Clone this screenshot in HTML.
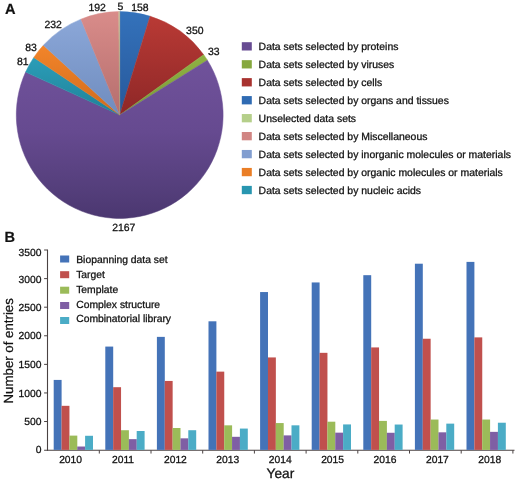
<!DOCTYPE html>
<html><head><meta charset="utf-8"><title>Figure</title>
<style>
html,body{margin:0;padding:0;background:#fff;}
body{width:520px;height:481px;overflow:hidden;font-family:"Liberation Sans",sans-serif;}
svg{display:block;filter:blur(0.35px);font-family:"Liberation Sans",sans-serif;}
text{fill:#111;stroke:#111;stroke-width:0.28px;text-rendering:geometricPrecision;}
</style></head><body>
<svg width="520" height="481" viewBox="0 0 520 481">
<defs>
<linearGradient id="g3" x1="0" y1="0" x2="0" y2="1"><stop offset="0" stop-color="#70529b"/><stop offset="0.45" stop-color="#664a90"/><stop offset="0.8" stop-color="#553f7c"/><stop offset="1" stop-color="#4b3770"/></linearGradient>
<linearGradient id="g0" x1="0" y1="0" x2="0" y2="1"><stop offset="0" stop-color="#3472bb"/><stop offset="1" stop-color="#27589a"/></linearGradient>
<linearGradient id="g1" x1="0" y1="0" x2="0" y2="1"><stop offset="0" stop-color="#b93a35"/><stop offset="1" stop-color="#8e2727"/></linearGradient>
<linearGradient id="g2" x1="0" y1="0" x2="0" y2="1"><stop offset="0" stop-color="#8fb243"/><stop offset="1" stop-color="#7a9a38"/></linearGradient>
<linearGradient id="g4" x1="0" y1="0" x2="0" y2="1"><stop offset="0" stop-color="#2b9db8"/><stop offset="1" stop-color="#1f8198"/></linearGradient>
<linearGradient id="g5" x1="0" y1="0" x2="0" y2="1"><stop offset="0" stop-color="#f3852a"/><stop offset="1" stop-color="#cf6a1c"/></linearGradient>
<linearGradient id="g6" x1="0" y1="0" x2="0" y2="1"><stop offset="0" stop-color="#8ba7d8"/><stop offset="1" stop-color="#6f8cbe"/></linearGradient>
<linearGradient id="g7" x1="0" y1="0" x2="0" y2="1"><stop offset="0" stop-color="#d98c8a"/><stop offset="1" stop-color="#b56e6d"/></linearGradient>
<linearGradient id="g8" x1="0" y1="0" x2="0" y2="1"><stop offset="0" stop-color="#c9bc92"/><stop offset="1" stop-color="#a89c78"/></linearGradient>
</defs>
<rect width="520" height="481" fill="#fff"/>

<path d="M119.7,115 L119.70,11.60 A103.4,103.4 0 0 1 150.10,16.17 Z" fill="url(#g0)" stroke="url(#g0)" stroke-width="0.5" stroke-linejoin="round"/>
<path d="M119.7,115 L150.10,16.17 A103.4,103.4 0 0 1 203.67,54.66 Z" fill="url(#g1)" stroke="url(#g1)" stroke-width="0.5" stroke-linejoin="round"/>
<path d="M119.7,115 L203.67,54.66 A103.4,103.4 0 0 1 207.39,60.21 Z" fill="url(#g2)" stroke="url(#g2)" stroke-width="0.5" stroke-linejoin="round"/>
<path d="M119.7,115 L207.39,60.21 A103.4,103.4 0 1 1 25.61,72.12 Z" fill="url(#g3)" stroke="url(#g3)" stroke-width="0.5" stroke-linejoin="round"/>
<path d="M119.7,115 L25.61,72.12 A103.4,103.4 0 0 1 33.78,57.48 Z" fill="url(#g4)" stroke="url(#g4)" stroke-width="0.5" stroke-linejoin="round"/>
<path d="M119.7,115 L33.78,57.48 A103.4,103.4 0 0 1 43.34,45.28 Z" fill="url(#g5)" stroke="url(#g5)" stroke-width="0.5" stroke-linejoin="round"/>
<path d="M119.7,115 L43.34,45.28 A103.4,103.4 0 0 1 80.97,19.13 Z" fill="url(#g6)" stroke="url(#g6)" stroke-width="0.5" stroke-linejoin="round"/>
<path d="M119.7,115 L80.97,19.13 A103.4,103.4 0 0 1 118.71,11.60 Z" fill="url(#g7)" stroke="url(#g7)" stroke-width="0.5" stroke-linejoin="round"/>
<path d="M119.7,115 L118.71,11.60 A103.4,103.4 0 0 1 119.70,11.60 Z" fill="url(#g8)" stroke="url(#g8)" stroke-width="0.5" stroke-linejoin="round"/>
<text x="88.4" y="11.2" font-size="10.45">192</text>
<text x="117.6" y="10.2" font-size="10.45">5</text>
<text x="131.2" y="11.2" font-size="10.45">158</text>
<text x="186.1" y="34.3" font-size="10.45">350</text>
<text x="207.9" y="55.0" font-size="10.45">33</text>
<text x="44.5" y="27.7" font-size="10.45">232</text>
<text x="25.3" y="51.1" font-size="10.45">83</text>
<text x="17.0" y="65.4" font-size="10.45">81</text>
<text x="112.2" y="231.0" font-size="10.45">2167</text>
<text x="5.0" y="14.3" font-size="14.6" font-weight="bold" style="stroke-width:0.2px">A</text>
<text x="4.6" y="242.3" font-size="14.6" font-weight="bold" style="stroke-width:0.2px">B</text>
<rect x="241.8" y="42.20" width="10" height="8.3" fill="#674b92"/>
<text x="258.6" y="49.60" font-size="10.45">Data sets selected by proteins</text>
<rect x="241.8" y="60.16" width="10" height="8.3" fill="#86a83e"/>
<text x="258.6" y="67.67" font-size="10.45">Data sets selected by viruses</text>
<rect x="241.8" y="78.12" width="10" height="8.3" fill="#a8322f"/>
<text x="258.6" y="85.74" font-size="10.45">Data sets selected by cells</text>
<rect x="241.8" y="96.08" width="10" height="8.3" fill="#2f6bb3"/>
<text x="258.6" y="103.81" font-size="10.45">Data sets selected by organs and tissues</text>
<rect x="241.8" y="114.04" width="10" height="8.3" fill="#b5cf8a"/>
<text x="258.6" y="121.88" font-size="10.45">Unselected data sets</text>
<rect x="241.8" y="132.00" width="10" height="8.3" fill="#d18583"/>
<text x="258.6" y="139.95" font-size="10.45">Data sets selected by Miscellaneous</text>
<rect x="241.8" y="149.96" width="10" height="8.3" fill="#829ed0"/>
<text x="258.6" y="158.02" font-size="10.45">Data sets selected by inorganic molecules or materials</text>
<rect x="241.8" y="167.92" width="10" height="8.3" fill="#ea7e26"/>
<text x="258.6" y="176.09" font-size="10.45">Data sets selected by organic molecules or materials</text>
<rect x="241.8" y="185.88" width="10" height="8.3" fill="#2896b0"/>
<text x="258.6" y="194.16" font-size="10.45">Data sets selected by nucleic acids</text>
<line x1="47.5" y1="249.6" x2="47.5" y2="450.75" stroke="#4a4242" stroke-width="1.1"/>
<line x1="47.0" y1="450.25" x2="514.5" y2="450.25" stroke="#4a4242" stroke-width="1.1"/>
<line x1="44.1" y1="450.25" x2="47.5" y2="450.25" stroke="#4a4242" stroke-width="1"/>
<text x="41.5" y="453.40" font-size="10.3" text-anchor="end">0</text>
<line x1="44.1" y1="421.52" x2="47.5" y2="421.52" stroke="#4a4242" stroke-width="1"/>
<text x="41.5" y="424.95" font-size="10.3" text-anchor="end">500</text>
<line x1="44.1" y1="392.94" x2="47.5" y2="392.94" stroke="#4a4242" stroke-width="1"/>
<text x="41.5" y="396.50" font-size="10.3" text-anchor="end">1000</text>
<line x1="44.1" y1="364.36" x2="47.5" y2="364.36" stroke="#4a4242" stroke-width="1"/>
<text x="41.5" y="368.05" font-size="10.3" text-anchor="end">1500</text>
<line x1="44.1" y1="335.78" x2="47.5" y2="335.78" stroke="#4a4242" stroke-width="1"/>
<text x="41.5" y="339.20" font-size="10.3" text-anchor="end">2000</text>
<line x1="44.1" y1="307.20" x2="47.5" y2="307.20" stroke="#4a4242" stroke-width="1"/>
<text x="41.5" y="311.15" font-size="10.3" text-anchor="end">2500</text>
<line x1="44.1" y1="278.62" x2="47.5" y2="278.62" stroke="#4a4242" stroke-width="1"/>
<text x="41.5" y="282.70" font-size="10.3" text-anchor="end">3000</text>
<line x1="44.1" y1="250.00" x2="47.5" y2="250.00" stroke="#4a4242" stroke-width="1"/>
<text x="41.5" y="255.55" font-size="10.3" text-anchor="end">3500</text>
<line x1="99.30" y1="450.25" x2="99.30" y2="453.55" stroke="#4a4242" stroke-width="1"/>
<line x1="151.00" y1="450.25" x2="151.00" y2="453.55" stroke="#4a4242" stroke-width="1"/>
<line x1="202.70" y1="450.25" x2="202.70" y2="453.55" stroke="#4a4242" stroke-width="1"/>
<line x1="254.40" y1="450.25" x2="254.40" y2="453.55" stroke="#4a4242" stroke-width="1"/>
<line x1="306.10" y1="450.25" x2="306.10" y2="453.55" stroke="#4a4242" stroke-width="1"/>
<line x1="357.80" y1="450.25" x2="357.80" y2="453.55" stroke="#4a4242" stroke-width="1"/>
<line x1="409.50" y1="450.25" x2="409.50" y2="453.55" stroke="#4a4242" stroke-width="1"/>
<line x1="461.20" y1="450.25" x2="461.20" y2="453.55" stroke="#4a4242" stroke-width="1"/>
<line x1="512.90" y1="450.25" x2="512.90" y2="453.55" stroke="#4a4242" stroke-width="1"/>
<rect x="53.70" y="379.92" width="7.8999999999999995" height="69.98" fill="#4473b8"/>
<rect x="61.55" y="405.82" width="7.8999999999999995" height="44.08" fill="#c0504d"/>
<rect x="69.40" y="435.61" width="7.8999999999999995" height="14.29" fill="#9bbb59"/>
<rect x="77.25" y="446.52" width="7.8999999999999995" height="3.38" fill="#7f5fa4"/>
<rect x="85.10" y="435.78" width="7.8999999999999995" height="14.12" fill="#4bacc6"/>
<text x="70.60" y="462.6" font-size="10.3" text-anchor="middle">2010</text>
<rect x="105.30" y="346.58" width="7.8999999999999995" height="103.32" fill="#4473b8"/>
<rect x="113.15" y="387.19" width="7.8999999999999995" height="62.71" fill="#c0504d"/>
<rect x="121.00" y="430.22" width="7.8999999999999995" height="19.68" fill="#9bbb59"/>
<rect x="128.85" y="439.14" width="7.8999999999999995" height="10.76" fill="#7f5fa4"/>
<rect x="136.70" y="431.01" width="7.8999999999999995" height="18.89" fill="#4bacc6"/>
<text x="123.00" y="462.6" font-size="10.3" text-anchor="middle">2011</text>
<rect x="156.90" y="336.87" width="7.8999999999999995" height="113.03" fill="#4473b8"/>
<rect x="164.75" y="380.94" width="7.8999999999999995" height="68.96" fill="#c0504d"/>
<rect x="172.60" y="428.00" width="7.8999999999999995" height="21.90" fill="#9bbb59"/>
<rect x="180.45" y="438.34" width="7.8999999999999995" height="11.56" fill="#7f5fa4"/>
<rect x="188.30" y="430.22" width="7.8999999999999995" height="19.68" fill="#4bacc6"/>
<text x="175.40" y="462.6" font-size="10.3" text-anchor="middle">2012</text>
<rect x="208.50" y="321.30" width="7.8999999999999995" height="128.60" fill="#4473b8"/>
<rect x="216.35" y="371.63" width="7.8999999999999995" height="78.27" fill="#c0504d"/>
<rect x="224.20" y="425.33" width="7.8999999999999995" height="24.57" fill="#9bbb59"/>
<rect x="232.05" y="436.81" width="7.8999999999999995" height="13.09" fill="#7f5fa4"/>
<rect x="239.90" y="428.57" width="7.8999999999999995" height="21.33" fill="#4bacc6"/>
<text x="227.80" y="462.6" font-size="10.3" text-anchor="middle">2013</text>
<rect x="260.10" y="292.05" width="7.8999999999999995" height="157.85" fill="#4473b8"/>
<rect x="267.95" y="357.43" width="7.8999999999999995" height="92.47" fill="#c0504d"/>
<rect x="275.80" y="423.06" width="7.8999999999999995" height="26.84" fill="#9bbb59"/>
<rect x="283.65" y="435.39" width="7.8999999999999995" height="14.51" fill="#7f5fa4"/>
<rect x="291.50" y="425.33" width="7.8999999999999995" height="24.57" fill="#4bacc6"/>
<text x="280.20" y="462.6" font-size="10.3" text-anchor="middle">2014</text>
<rect x="311.70" y="282.45" width="7.8999999999999995" height="167.45" fill="#4473b8"/>
<rect x="319.55" y="352.83" width="7.8999999999999995" height="97.07" fill="#c0504d"/>
<rect x="327.40" y="421.70" width="7.8999999999999995" height="28.20" fill="#9bbb59"/>
<rect x="335.25" y="432.66" width="7.8999999999999995" height="17.24" fill="#7f5fa4"/>
<rect x="343.10" y="424.42" width="7.8999999999999995" height="25.48" fill="#4bacc6"/>
<text x="332.60" y="462.6" font-size="10.3" text-anchor="middle">2015</text>
<rect x="363.30" y="275.18" width="7.8999999999999995" height="174.72" fill="#4473b8"/>
<rect x="371.15" y="347.43" width="7.8999999999999995" height="102.47" fill="#c0504d"/>
<rect x="379.00" y="420.90" width="7.8999999999999995" height="29.00" fill="#9bbb59"/>
<rect x="386.85" y="432.77" width="7.8999999999999995" height="17.13" fill="#7f5fa4"/>
<rect x="394.70" y="424.54" width="7.8999999999999995" height="25.36" fill="#4bacc6"/>
<text x="385.00" y="462.6" font-size="10.3" text-anchor="middle">2016</text>
<rect x="414.90" y="263.71" width="7.8999999999999995" height="186.19" fill="#4473b8"/>
<rect x="422.75" y="338.74" width="7.8999999999999995" height="111.16" fill="#c0504d"/>
<rect x="430.60" y="419.54" width="7.8999999999999995" height="30.36" fill="#9bbb59"/>
<rect x="438.45" y="432.32" width="7.8999999999999995" height="17.58" fill="#7f5fa4"/>
<rect x="446.30" y="423.63" width="7.8999999999999995" height="26.27" fill="#4bacc6"/>
<text x="437.40" y="462.6" font-size="10.3" text-anchor="middle">2017</text>
<rect x="466.50" y="261.89" width="7.8999999999999995" height="188.01" fill="#4473b8"/>
<rect x="474.35" y="337.38" width="7.8999999999999995" height="112.52" fill="#c0504d"/>
<rect x="482.20" y="419.54" width="7.8999999999999995" height="30.36" fill="#9bbb59"/>
<rect x="490.05" y="431.86" width="7.8999999999999995" height="18.04" fill="#7f5fa4"/>
<rect x="497.90" y="422.72" width="7.8999999999999995" height="27.18" fill="#4bacc6"/>
<text x="489.80" y="462.6" font-size="10.3" text-anchor="middle">2018</text>
<rect x="60.1" y="255.5" width="9.1" height="7" fill="#4473b8"/>
<text x="76.2" y="262.6" font-size="10.35">Biopanning data set</text>
<rect x="60.1" y="271.2" width="9.1" height="7" fill="#c0504d"/>
<text x="76.2" y="278.0" font-size="10.35">Target</text>
<rect x="60.1" y="286.7" width="9.1" height="7" fill="#9bbb59"/>
<text x="76.2" y="293.2" font-size="10.35">Template</text>
<rect x="60.1" y="302.0" width="9.1" height="7" fill="#7f5fa4"/>
<text x="76.2" y="308.2" font-size="10.35">Complex structure</text>
<rect x="60.1" y="317.0" width="9.1" height="7" fill="#4bacc6"/>
<text x="76.2" y="322.4" font-size="10.35">Combinatorial library</text>
<text x="266.6" y="478.4" font-size="13.7">Year</text>
<text transform="translate(12.9,350.8) rotate(-90)" font-size="13.25" text-anchor="middle" style="stroke-width:0.2px">Number of entries</text>
</svg></body></html>
